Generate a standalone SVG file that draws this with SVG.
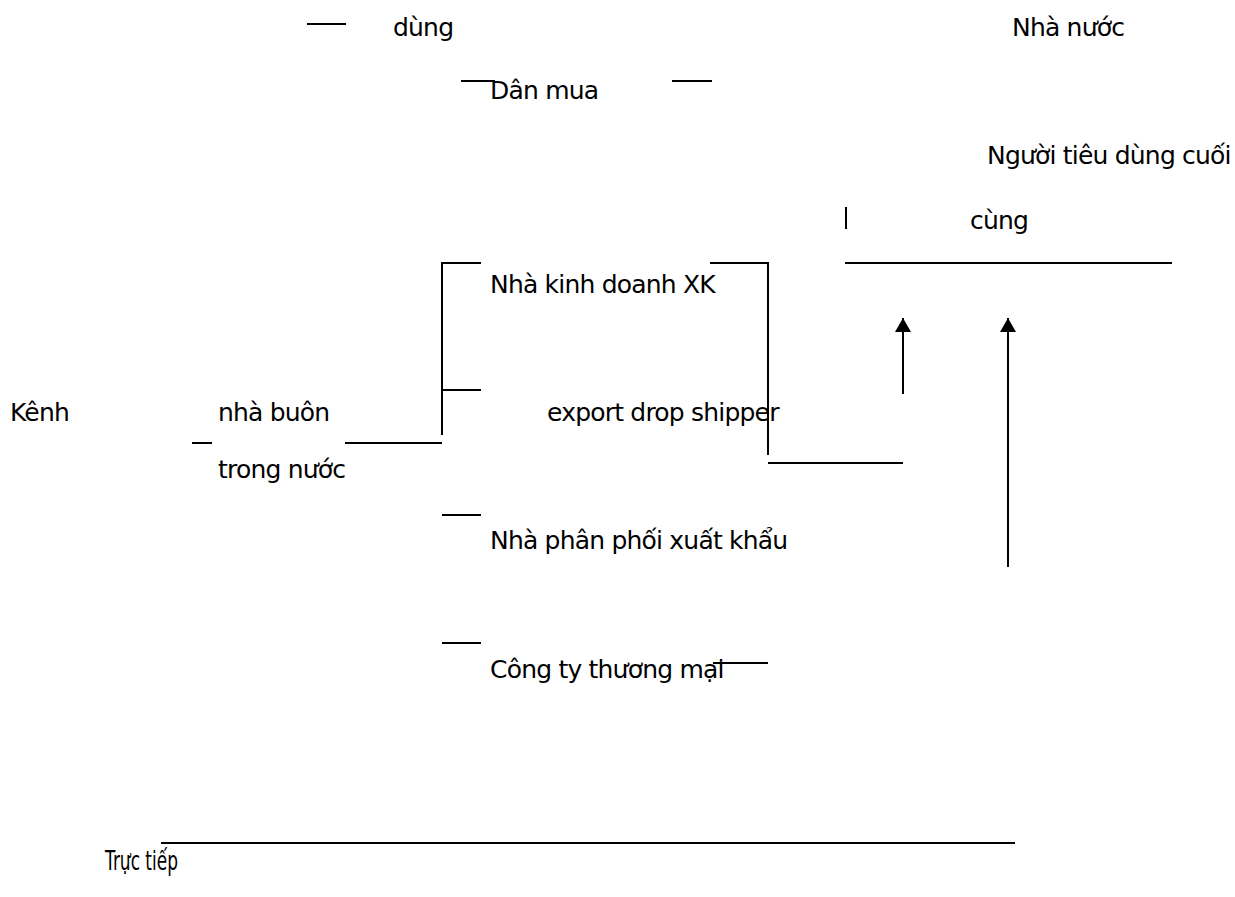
<svg xmlns="http://www.w3.org/2000/svg" width="1235" height="897" viewBox="0 0 1235 897">
<defs>
<style>
text{font-family:"DejaVu Sans","Noto Sans",sans-serif;font-size:25px;letter-spacing:-0.8px;fill:#000}
.c line{stroke:#000;stroke-width:2}
</style>
<marker id="ah" viewBox="0 0 14 16" refX="14" refY="8" markerWidth="14" markerHeight="16" markerUnits="userSpaceOnUse" orient="auto"><path d="M0,0L14,8L0,16z" fill="#000"/></marker>
</defs>
<rect width="1235" height="897" fill="#fff"/>
<g id="n-dung"><text x="393" y="36">dùng</text></g>
<g id="n-nhanuoc"><text x="1012" y="36">Nhà nước</text></g>
<g id="n-danmua"><text x="490" y="99">Dân mua</text></g>
<g id="n-ntd"><text x="987" y="164">Người tiêu dùng cuối</text><text x="970" y="229">cùng</text></g>
<g id="n-kenh"><text x="10" y="421">Kênh</text></g>
<g id="n-nhabuon"><text x="218" y="421">nhà buôn</text><text x="218" y="478">trong nước</text></g>
<g id="n-nkd"><text x="490" y="293">Nhà kinh doanh XK</text></g>
<g id="n-eds"><text x="547" y="421">export drop shipper</text></g>
<g id="n-nppxk"><text x="490" y="549">Nhà phân phối xuất khẩu</text></g>
<g id="n-ctytm"><text x="490" y="678">Công ty thương mại</text></g>
<g id="n-tructiep"><text x="105" y="870" style="font-size:27px;letter-spacing:0" textLength="73" lengthAdjust="spacingAndGlyphs">Trực tiếp</text></g>
<g id="connectors" class="c">
<line x1="307" y1="24" x2="346" y2="24"/>
<line x1="461" y1="81" x2="495" y2="81"/>
<line x1="672" y1="81" x2="712" y2="81"/>
<line x1="846" y1="207" x2="846" y2="229"/>
<line x1="845" y1="263" x2="1172" y2="263"/>
<line x1="442" y1="263" x2="442" y2="435"/>
<line x1="441" y1="263" x2="481" y2="263"/>
<line x1="442" y1="390" x2="481" y2="390"/>
<line x1="345" y1="443" x2="442" y2="443"/>
<line x1="192" y1="443" x2="212" y2="443"/>
<line x1="710" y1="263" x2="769" y2="263"/>
<line x1="768" y1="263" x2="768" y2="455"/>
<line x1="768" y1="463" x2="903" y2="463"/>
<line x1="903" y1="394" x2="903" y2="318" marker-end="url(#ah)"/>
<line x1="1008" y1="567" x2="1008" y2="318" marker-end="url(#ah)"/>
<line x1="442" y1="515" x2="481" y2="515"/>
<line x1="442" y1="643" x2="481" y2="643"/>
<line x1="713" y1="663" x2="768" y2="663"/>
<line x1="161" y1="843" x2="1015" y2="843"/>
</g>
</svg>
